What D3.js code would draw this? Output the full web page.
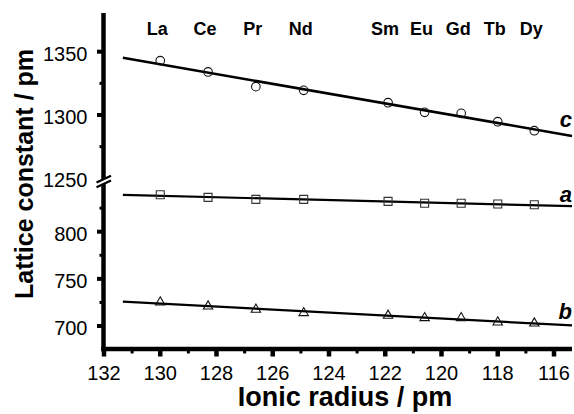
<!DOCTYPE html>
<html><head><meta charset="utf-8">
<script src="https://cdn.jsdelivr.net/npm/d3@7"></script>
<style>body{margin:0;background:#fff}svg{display:block}text{font-family:"Liberation Sans",Arial,sans-serif}</style>
</head><body>
<script>
// ---- data ----
const elements = ["La","Ce","Pr","Nd","Sm","Eu","Gd","Tb","Dy"];
const radii    = [130.0,128.3,126.6,124.9,121.9,120.6,119.3,118.0,116.7];
const cValues  = [1342.9,1334.0,1322.4,1319.5,1309.7,1302.1,1301.3,1294.7,1287.6];
const aValues  = [839.2,836.4,834.3,834.3,832.2,830.1,830.1,829.3,828.6];
const bValues  = [725.2,720.9,717.5,713.9,711.1,708.6,708.6,704.0,702.9];
const fitRange = [131.33,115.36];
const xMajor = [132,130,128,126,124,122,120,118,116];
const xMinor = [131,129,127,125,123,121,119,117];
const topMajor = [1300,1350], topMinor = [1275,1325], topLabels=[1250,1300,1350];
const botMajor = [700,750,800], botMinor = [725,775,825];

const W=574,H=414;
const svg=d3.select("body").append("svg").attr("width",W).attr("height",H);
const x=d3.scaleLinear().domain([132,116]).range([104,554]);
const yTop=d3.scaleLinear().domain([1300,1350]).range([115,51.7]);
const yBot=d3.scaleLinear().domain([700,800]).range([326,231.7]);
const axX=103.5, axY=349;

function fit(xs,ys){
  const mx=d3.mean(xs),my=d3.mean(ys);
  const sxy=d3.sum(xs,(v,i)=>(v-mx)*(ys[i]-my)), sxx=d3.sum(xs,v=>(v-mx)*(v-mx));
  const s=sxy/sxx; return v=>my+s*(v-mx);
}
// fit lines
[[cValues,yTop,2.6],[aValues,yBot,2.2],[bValues,yBot,2.2]].forEach(([vals,ys,w])=>{
  const f=fit(radii,vals);
  svg.append("path").attr("d",d3.line()(fitRange.map(r=>[x(r),ys(f(r))])))
    .attr("stroke","#000").attr("stroke-width",w).attr("fill","none");
});
// markers
svg.selectAll(".c").data(radii).join("circle").attr("cx",d=>x(d)).attr("cy",(d,i)=>yTop(cValues[i]))
  .attr("r",4.3).attr("fill","none").attr("stroke","#111").attr("stroke-width",1.1);
svg.selectAll(".a").data(radii).join("path").attr("d",d3.symbol(d3.symbolSquare,64))
  .attr("transform",(d,i)=>`translate(${x(d)},${yBot(aValues[i])})`)
  .attr("fill","none").attr("stroke","#333").attr("stroke-width",1.1);
svg.selectAll(".b").data(radii).join("path").attr("d",d3.symbol(d3.symbolTriangle,38))
  .attr("transform",(d,i)=>`translate(${x(d)},${yBot(bValues[i])})`)
  .attr("fill","none").attr("stroke","#111").attr("stroke-width",1.1);

// axes
const gy=svg.append("g");
gy.append("line").attr("x1",axX).attr("x2",axX).attr("y1",13).attr("y2",axY+2.2).attr("stroke","#000").attr("stroke-width",4.5);
gy.append("line").attr("x1",axX-2.2).attr("x2",572).attr("y1",axY).attr("y2",axY).attr("stroke","#000").attr("stroke-width",4.5);
function yticks(vals,sc,len,w){
  gy.selectAll(null).data(vals).join("line").attr("x1",axX).attr("x2",axX-len)
    .attr("y1",d=>sc(d)).attr("y2",d=>sc(d)).attr("stroke","#000").attr("stroke-width",w);
}
yticks(topMajor,yTop,6.5,4);yticks(botMajor,yBot,6.5,4);
yticks(topMinor,yTop,4,3);yticks(botMinor,yBot,4,3);
gy.selectAll(null).data(topLabels).join("text").attr("x",87.5).attr("y",d=>yTop(d)).attr("dy","0.45em")
  .attr("text-anchor","end").attr("font-size",20).text(d=>d);
gy.selectAll(null).data(botMajor).join("text").attr("x",87.5).attr("y",d=>yBot(d)).attr("dy","0.45em")
  .attr("text-anchor","end").attr("font-size",20).text(d=>d);
gy.selectAll(null).data(xMajor).join("line").attr("x1",d=>x(d)).attr("x2",d=>x(d)).attr("y1",axY).attr("y2",axY+7.5)
  .attr("stroke","#000").attr("stroke-width",4.5);
gy.selectAll(null).data(xMinor).join("line").attr("x1",d=>x(d)).attr("x2",d=>x(d)).attr("y1",axY).attr("y2",axY+4.5)
  .attr("stroke","#000").attr("stroke-width",3);
gy.selectAll(null).data(xMajor).join("text").attr("x",d=>x(d)).attr("y",axY+31)
  .attr("text-anchor","middle").attr("font-size",20).text(d=>d);

// axis break
const by=(yTop(1250)+yBot(850))/2;
svg.append("line").attr("x1",98).attr("y1",by+3).attr("x2",109).attr("y2",by-2.2).attr("stroke","#fff").attr("stroke-width",4);
[-2.4,2.4].forEach(o=>svg.append("line").attr("x1",96.5).attr("y1",by+3.5+o).attr("x2",111).attr("y2",by-3.3+o)
  .attr("stroke","#000").attr("stroke-width",2.2));

// element labels
svg.selectAll(".el").data(elements).join("text").attr("x",(d,i)=>x(radii[i])-3).attr("y",35)
  .attr("text-anchor","middle").attr("font-size",18).attr("font-weight","bold").text(d=>d);
// series labels
[["c",126.7],["a",201.7],["b",319.3]].forEach(([t,yy])=>
  svg.append("text").attr("x",572).attr("y",yy).attr("text-anchor","end").attr("font-size",22)
    .attr("font-weight","bold").attr("font-style","italic").text(t));
// titles
svg.append("text").attr("x",345).attr("y",406).attr("text-anchor","middle").attr("font-size",27)
  .attr("font-weight","bold").text("Ionic radius / pm");
svg.append("text").attr("transform","translate(33,174) rotate(-90)").attr("text-anchor","middle")
  .attr("font-size",25).attr("font-weight","bold").text("Lattice constant / pm");
</script>
</body></html>
